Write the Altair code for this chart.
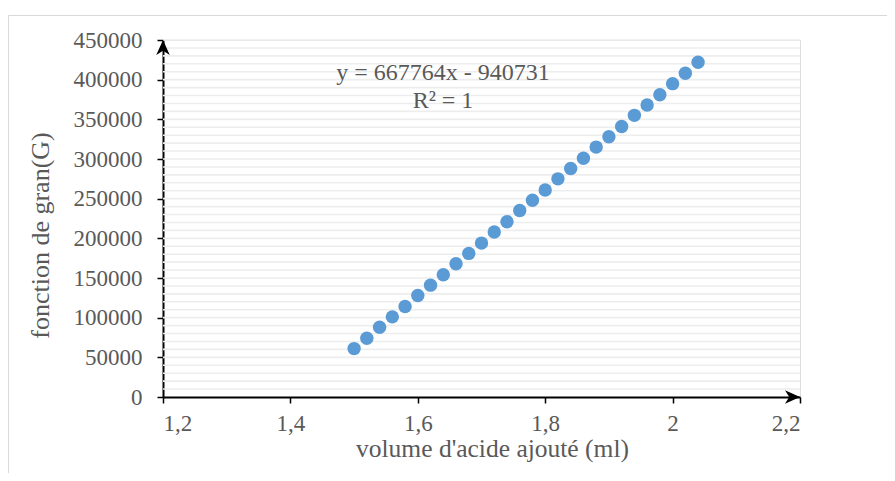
import altair as alt
import pandas as pd

# Data
volume = [1.50, 1.52, 1.54, 1.56, 1.58, 1.60, 1.62, 1.64, 1.66, 1.68,
          1.70, 1.72, 1.74, 1.76, 1.78, 1.80, 1.82, 1.84, 1.86, 1.88,
          1.90, 1.92, 1.94, 1.96, 1.98, 2.00, 2.02, 2.04]
gran = [61000, 74000, 88000, 101000, 114000, 128000, 141000, 154000, 168000, 181000,
        194000, 208000, 221000, 235000, 248000, 261000, 275000, 288000, 301000, 315000,
        328000, 341000, 355000, 368000, 381000, 395000, 408000, 422000]

x_ticks = [1.2, 1.4, 1.6, 1.8, 2.0, 2.2]
y_ticks = [0, 50000, 100000, 150000, 200000, 250000, 300000, 350000, 400000, 450000]
grid_lines = list(range(10000, 450001, 10000))

equation = "y = 667764x - 940731"
r2 = "R² = 1"
x_title = "volume d'acide ajouté (ml)"
y_title = "fonction de gran(G)"

FONT = "Liberation Serif"
TXT = "#595959"

df = pd.DataFrame({"v": volume, "g": gran})
grid_df = pd.DataFrame({"v": [x_ticks[0]] * len(grid_lines), "g": grid_lines})

xs = alt.Scale(domain=[1.2, 2.2], nice=False, zero=False)
ys = alt.Scale(domain=[0, 450000], nice=False)

x_axis = alt.Axis(values=x_ticks, title=x_title,
                  labelExpr="replace(format(datum.value, '~g'), '.', ',')",
                  grid=False, domainColor="black", domainWidth=2,
                  tickColor="black", tickWidth=1.5, tickSize=6,
                  labelFont=FONT, labelFontSize=23, labelColor=TXT,
                  labelPadding=9, labelOverlap=False,
                  titleFont=FONT, titleFontSize=25.5, titleFontWeight="normal",
                  titleColor=TXT, titleX=329, titleY=59,
                  titleBaseline="alphabetic", titleAlign="center")
y_axis = alt.Axis(values=y_ticks, title=y_title, format="d",
                  grid=False, domainColor="black", domainWidth=2,
                  tickColor="black", tickWidth=1.5, tickSize=6,
                  labelFont=FONT, labelFontSize=23, labelColor=TXT,
                  labelPadding=15, labelOverlap=False,
                  titleFont=FONT, titleFontSize=26, titleFontWeight="normal",
                  titleColor=TXT, titleAngle=-90, titleX=-115, titleY=195,
                  titleBaseline="alphabetic", titleAlign="center")

X = lambda: alt.X("v:Q", scale=xs, axis=x_axis)
Y = lambda: alt.Y("g:Q", scale=ys, axis=y_axis)

border = alt.Chart(pd.DataFrame({"a": [0]})).mark_rect(
    fill=None, stroke="#d9d9d9", strokeWidth=1
).encode(x=alt.value(-154.5), x2=alt.value(900), y=alt.value(-24.5), y2=alt.value(600))

grid = alt.Chart(grid_df).mark_rule(color="#ededed", strokeWidth=1.6).encode(
    y=Y(), x=alt.value(0), x2=alt.value(637)
)

points = alt.Chart(df).mark_circle(size=180, color="#5B9BD5", opacity=1).encode(
    x=X(), y=Y()
)

arrow_up = alt.Chart(pd.DataFrame({"v": [x_ticks[0]], "g": [y_ticks[-1]]})).mark_point(
    shape="M0,0 L0.45,1 L0,0.72 L-0.45,1 Z", size=900, filled=True, color="black", opacity=1
).encode(x=X(), y=Y())

arrow_right = alt.Chart(pd.DataFrame({"v": [x_ticks[-1]], "g": [y_ticks[0]]})).mark_point(
    shape="M0,0 L-1,-0.45 L-0.72,0 L-1,0.45 Z", size=900, filled=True, color="black", opacity=1
).encode(x=X(), y=Y())

eq1 = alt.Chart(pd.DataFrame({"t": [equation]})).mark_text(
    font=FONT, fontSize=24, color=TXT, align="center", baseline="alphabetic"
).encode(text="t:N", x=alt.value(280), y=alt.value(40))

eq2 = alt.Chart(pd.DataFrame({"t": [r2]})).mark_text(
    font=FONT, fontSize=24, color=TXT, align="center", baseline="alphabetic"
).encode(text="t:N", x=alt.value(280), y=alt.value(68))

chart = alt.layer(border, grid, points, arrow_up, arrow_right, eq1, eq2).properties(
    width=637, height=357,
    autosize=alt.AutoSizeParams(type="none"),
    padding={"left": 155, "top": 32, "right": 87, "bottom": 76},
).configure_view(stroke=None).configure(background="white")

chart.save("out.html", embed_options={"renderer": "svg", "actions": False})
